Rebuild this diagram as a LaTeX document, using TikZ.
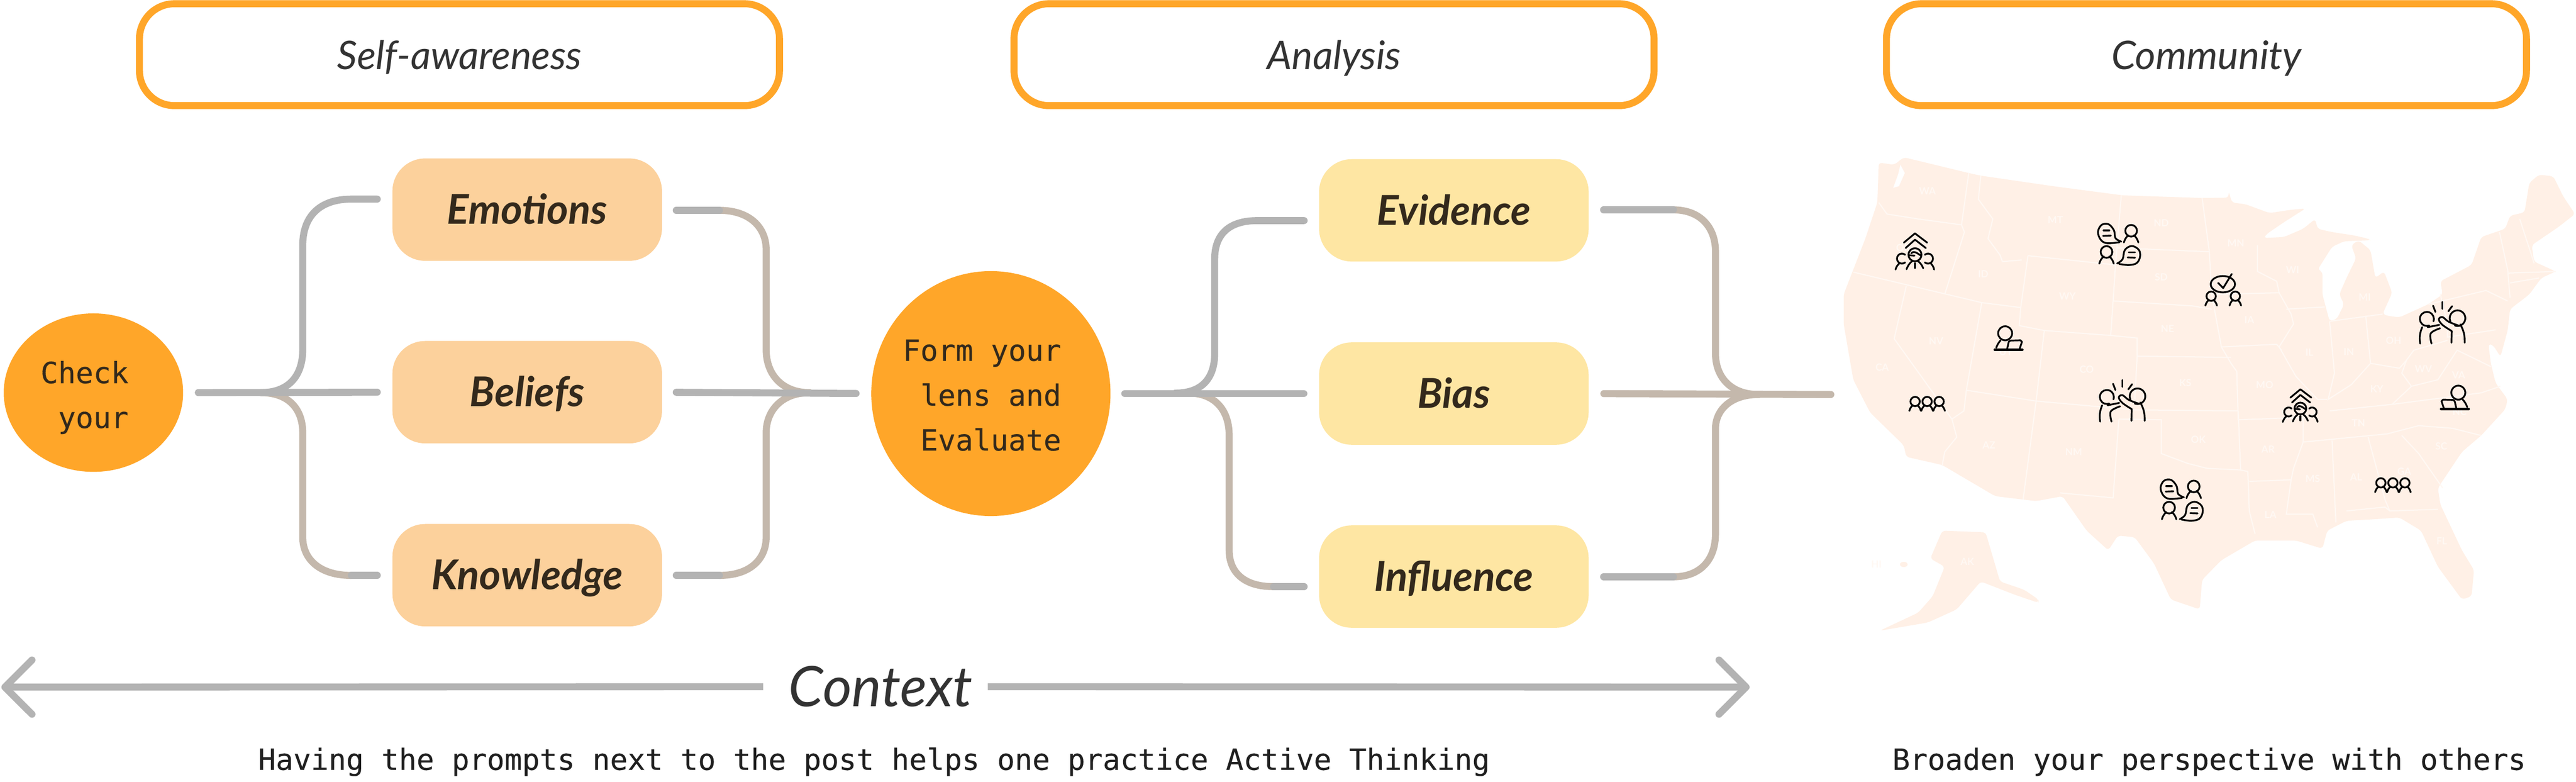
\documentclass[tikz,border=0pt]{standalone}
\usepackage{fontspec}
\setmonofont{DejaVu Sans Mono}[FakeBold = 0.25]
\newfontfamily\handfont{Lato}
\usetikzlibrary{arrows.meta}
\usetikzlibrary{shapes.geometric}
\definecolor{morange}{HTML}{FFA629}
\definecolor{mpeach}{HTML}{FCD19C}
\definecolor{myellow}{HTML}{FEE6A3}
\definecolor{mgrey}{HTML}{B3B3B3}
\definecolor{mtan}{HTML}{C4B8AC}
\definecolor{mmap}{HTML}{FFF0E6}
\definecolor{mline}{HTML}{FFF8F3}
\definecolor{mink}{HTML}{33291C}
\tikzset{
  headbox/.style = {draw = morange, line width = 0.15cm, rounded corners = 0.75cm, minimum width = 13.7cm, minimum height = 2.18cm, inner sep = 0, outer sep = 0, text height = 0.62cm, text depth = 0, text = black!80, font = \handfont\itshape\fontsize{24}{28}\selectfont},
  peachbox/.style = {fill = mpeach, rounded corners = 0.7cm, minimum width = 5.77cm, minimum height = 2.19cm, inner sep = 0, outer sep = 0, text height = 0.62cm, text depth = 0, text = mink, font = \handfont\bfseries\itshape\fontsize{25}{29}\selectfont},
  yellowbox/.style = {peachbox, fill = myellow},
  orangeblob/.style = {fill = morange, ellipse, inner sep = 0, outer sep = 0},
  blobtext/.style = {inner sep = 0, align = right, xshift = -0.19cm, text = mink, font = \ttfamily\fontsize{17.8}{27.3}\selectfont},
  greyline/.style = {draw = mgrey, line width = 0.15cm, line cap = round},
  tanline/.style = {draw = mtan, line width = 0.15cm, line cap = round},
  notetext/.style = {inner sep = 0, anchor = base west, text = black!88, font = \ttfamily\fontsize{17.8}{22}\selectfont},
  statelabel/.style = {inner sep = 0, text = mline, font = \handfont\bfseries\fontsize{6}{7}\selectfont},
  iconline/.style = {draw = black, line width = 0.038cm, line cap = round, line join = round},
  pics/person/.style = {code = {
    \draw [iconline] (0, 0) circle (0.125);
    \draw [iconline] (-0.06, -0.095) to [bend right = 15] (-0.155, -0.25);
    \draw [iconline] (0.06, -0.095) to [bend left = 15] (0.155, -0.25);
  }},
  pics/triple/.style = {code = {
    \pic [scale = 0.8] at (-0.257, 0) {person};
    \pic [scale = 0.8] at (0, 0) {person};
    \pic [scale = 0.8] at (0.257, 0) {person};
  }},
  pics/crowd/.style = {code = {
    \draw [iconline] (-0.237, 0.26) -- (0, 0.457) -- (0.26, 0.26);
    \draw [iconline] (-0.2, 0.143) -- (0, 0.323) -- (0.233, 0.143);
    \draw [iconline] (0, 0) circle (0.14);
    \draw [iconline] (-0.08, 0.03) .. controls (-0.02, 0.09) and (0.02, 0.05) .. (0.13, -0.02);
    \draw [iconline] (-0.13, -0.01) -- (-0.01, -0.02);
    \draw [iconline] (-0.057, -0.133) to [bend right = 15] (-0.18, -0.31);
    \draw [iconline] (0.06, -0.133) to [bend left = 15] (0.177, -0.29);
    \draw [iconline] (0, -0.183) -- (0, -0.283);
    \draw [iconline] (-0.21, -0.0) arc (50 : 310 : 0.107);
    \draw [iconline] (0.21, -0.0) arc (130 : -130 : 0.107);
    \draw [iconline] (-0.34, -0.19) to [bend right = 15] (-0.417, -0.317);
    \draw [iconline] (0.343, -0.19) to [bend left = 15] (0.41, -0.317);
  }},
  pics/chat/.style = {code = {
    \draw [iconline] plot [smooth, tension = 0.6] coordinates {(0.047, 0.06) (-0.077, 0.133) (-0.11, 0.3) (-0.227, 0.433) (-0.377, 0.417) (-0.453, 0.267) (-0.393, 0.1) (-0.26, 0.027) (0.007, 0.047)};
    \draw [iconline] (-0.333, 0.3) -- (-0.21, 0.3);
    \draw [iconline] (-0.343, 0.183) -- (-0.177, 0.19);
    \pic at (0.257, 0.293) {person};
    \pic at (-0.27, -0.16) {person};
    \draw [iconline] plot [smooth, tension = 0.6] coordinates {(-0.043, -0.407) (0.073, -0.317) (0.123, -0.117) (0.273, -0.033) (0.423, -0.117) (0.447, -0.267) (0.373, -0.4) (0.207, -0.44) (0, -0.417)};
    \draw [iconline] (0.207, -0.167) -- (0.34, -0.167);
    \draw [iconline] (0.183, -0.277) -- (0.34, -0.283);
  }},
  pics/tick/.style = {code = {
    \draw [iconline] (0, 0) ellipse (0.26 and 0.175);
    \draw [iconline] (-0.1, 0.027) -- (0.007, -0.083) -- (0.19, 0.217);
    \pic [scale = 0.8] at (-0.25, -0.257) {person};
    \pic [scale = 0.8] at (0.267, -0.257) {person};
  }},
  pics/laptop/.style = {code = {
    \draw [iconline] (0, 0) circle (0.15);
    \draw [iconline] (-0.097, -0.15) to [bend right = 10] (-0.19, -0.307);
    \draw [iconline, line width = 0.05cm] (-0.223, -0.35) -- (0.37, -0.35);
    \draw [iconline] (0.043, -0.333) -- (0.077, -0.183) -- (0.11, -0.157) -- (0.327, -0.15) -- (0.36, -0.183) -- (0.31, -0.333);
  }},
  pics/highfive/.style = {code = {
    \draw [iconline] (-0.192, 0.026) arc (-20 : 290 : 0.15);
    \draw [iconline] (0.172, 0.022) arc (205 : -110 : 0.167);
    \draw [iconline] (-0.433, -0.1) to [bend right = 15] (-0.477, -0.45);
    \draw [iconline] (-0.317, -0.1) -- (-0.067, -0.05);
    \draw [iconline] plot [smooth, tension = 0.6] coordinates {(-0.05, -0.123) (-0.25, -0.233) (-0.233, -0.45)};
    \draw [iconline] plot [smooth, tension = 0.6] coordinates {(0.2, -0.183) (0, -0.05) (-0.077, 0.067) (0, 0.117) (0.133, 0.017) (0.35, -0.067)};
    \draw [iconline] (0.383, -0.04) to [bend left = 15] (0.477, -0.433);
    \draw [iconline] (0.2, -0.183) -- (0.193, -0.433);
    \draw [iconline] (-0.2, 0.36) -- (-0.15, 0.227);
    \draw [iconline] (0, 0.44) -- (0, 0.293);
    \draw [iconline] (0.207, 0.35) -- (0.127, 0.24);
  }}
}

\begin{document}
\begin{tikzpicture}
  \useasboundingbox (0, 0) rectangle (55.14, 16.72);

  % map
  \begin{scope}[shift = {(39, 13.72)}, x = 0.010293cm, y = -0.007015cm]
    \fill [mmap, rounded corners = 2pt] (118,68) -- (150,75) -- (170,52) -- (305,100) -- (330,108) -- (480,140) -- (625,168) -- (790,176) -- (845,175) -- (845,155) -- (852,190) -- (880,195) -- (930,222) -- (975,212) -- (1005,208) -- (960,250) -- (925,285) -- (918,298) -- (960,295) -- (1000,270) -- (1025,240) -- (1030,270) -- (1060,280) -- (1105,290) -- (1135,300) -- (1140,305) -- (1085,308) -- (1060,325) -- (1045,360) -- (1030,395) -- (1040,400) -- (1040,470) -- (1055,552) -- (1070,545) -- (1085,500) -- (1075,470) -- (1090,420) -- (1110,360) -- (1100,320) -- (1115,305) -- (1140,335) -- (1150,420) -- (1168,400) -- (1185,465) -- (1165,530) -- (1175,535) -- (1200,540) -- (1260,500) -- (1290,470) -- (1285,430) -- (1350,380) -- (1370,295) -- (1420,270) -- (1430,230) -- (1460,220) -- (1470,130) -- (1490,105) -- (1520,110) -- (1540,170) -- (1565,225) -- (1530,265) -- (1475,320) -- (1480,370) -- (1525,400) -- (1495,420) -- (1470,470) -- (1430,515) -- (1425,580) -- (1410,660) -- (1395,625) -- (1385,620) -- (1390,680) -- (1400,740) -- (1425,790) -- (1420,820) -- (1370,900) -- (1330,950) -- (1280,1060) -- (1285,1110) -- (1330,1250) -- (1355,1310) -- (1350,1390) -- (1330,1400) -- (1280,1300) -- (1245,1190) -- (1200,1150) -- (1150,1155) -- (1090,1160) -- (1050,1190) -- (1040,1245) -- (985,1220) -- (900,1220) -- (830,1280) -- (790,1340) -- (785,1430) -- (725,1400) -- (690,1290) -- (650,1210) -- (615,1205) -- (595,1250) -- (550,1190) -- (500,1085) -- (445,1100) -- (360,1085) -- (250,990) -- (175,965) -- (170,930) -- (100,830) -- (65,730) -- (45,560) -- (45,470) -- (90,300) -- (115,190) -- cycle;
    \fill [mmap, rounded corners = 2pt] (250,1190) -- (340,1195) -- (370,1345) -- (420,1370) -- (450,1400) -- (450,1410) -- (400,1385) -- (330,1345) -- (280,1430) -- (220,1470) -- (120,1495) -- (200,1440) -- (230,1390) -- (255,1300) -- (225,1275) -- cycle;
    \fill [mmap] (170, 1293) circle (8);
    \foreach \p in {
      {(118,190) -- (135,225) -- (200,240) -- (290,258)},
      {(305,100) -- (290,258) -- (296,280) -- (255,470)},
      {(330,108) -- (325,180) -- (355,240) -- (345,300) -- (370,350) -- (375,370) -- (415,365)},
      {(428,352) -- (413,510) -- (410,565) -- (462,580) -- (600,595) -- (655,603) -- (655,658) -- (650,790)},
      {(622,168) -- (610,380) -- (605,490) -- (600,595)},
      {(428,352) -- (610,380)},
      {(612,328) -- (805,340)},
      {(605,490) -- (770,505) -- (810,515)},
      {(655,658) -- (850,662)},
      {(462,580) -- (445,795) -- (418,1095)},
      {(300,762) -- (445,795) -- (650,822) -- (865,825)},
      {(332,495) -- (300,762) -- (295,825) -- (270,850) -- (280,905) -- (255,950) -- (250,990)},
      {(65,402) -- (332,495) -- (413,510)},
      {(175,445) -- (150,605) -- (270,850)},
      {(617,850) -- (605,1090) -- (495,1075)},
      {(617,850) -- (705,852) -- (705,955) -- (760,985) -- (800,1000) -- (870,1005) -- (885,1010) -- (888,1130) -- (900,1200)},
      {(865,825) -- (870,1005)},
      {(888,1040) -- (975,1035) -- (965,1140) -- (1020,1140) -- (1030,1180)},
      {(865,852) -- (1000,845) -- (1000,880) -- (1000,920) -- (980,1000) -- (975,1035)},
      {(790,176) -- (805,340) -- (810,470) -- (830,630) -- (850,680) -- (862,705) -- (865,852)},
      {(830,630) -- (945,622) -- (955,640)},
      {(808,470) -- (950,465)},
      {(905,320) -- (905,400) -- (945,430) -- (950,465) -- (975,530) -- (980,560) -- (950,630) -- (985,720) -- (1030,790) -- (1050,790)},
      {(965,515) -- (1045,508)},
      {(1055,552) -- (1065,710) -- (1052,790) -- (1100,745) -- (1140,680) -- (1200,695) -- (1215,670) -- (1205,710) -- (1225,750) -- (1185,805)},
      {(1130,535) -- (1140,680)},
      {(1055,552) -- (1165,530)},
      {(1055,825) -- (1185,805) -- (1370,770) -- (1410,750)},
      {(1000,920) -- (1175,895) -- (1240,870) -- (1310,878) -- (1370,900)},
      {(1060,915) -- (1068,1165)},
      {(1135,905) -- (1170,1095) -- (1180,1130)},
      {(1090,1130) -- (1170,1118) -- (1180,1130) -- (1280,1125)},
      {(1205,900) -- (1240,955) -- (1290,1060)},
      {(1215,670) -- (1230,640) -- (1300,610)},
      {(1285,470) -- (1300,560) -- (1300,600) -- (1400,578)},
      {(1260,500) -- (1380,458) -- (1425,490)},
      {(1408,280) -- (1425,395) -- (1430,480)},
      {(1450,240) -- (1480,375)},
      {(1425,405) -- (1525,400)},
      {(1430,435) -- (1490,420)},
      {(1225,750) -- (1280,730) -- (1320,640) -- (1390,690)}} {
      \draw [mline, line width = 0.025cm] \p;
    }
    \fill [white] (163,75) -- (172,100) -- (160,140) -- (148,145) -- (158,105) -- cycle;
    \foreach \n/\x/\y in {WA/219/155, MT/485/243, ND/705/253, MN/860/313, OR/169/327, ID/335/408, SD/705/417, WY/510/475, WI/978/395, MI/1128/478, IA/888/548, NE/718/575, NV/237/612, UT/382/645, IL/1013/647, IN/1095/645, OH/1188/610, CA/125/693, CO/550/698, WV/1250/697, VA/1323/715, KS/755/740, MO/920/745, KY/1153/758, NC/1325/828, TN/1115/862, OK/782/912, AR/927/942, SC/1287/933, AZ/347/930, NM/523/950, MS/1020/1032, AL/1110/1027, GA/1210/1010, LA/932/1142, FL/1288/1222, AK/302/1285, HI/113/1292} {
      \node [statelabel] (st\n) at (\x, \y) {\n};
    }
  \end{scope}

  % headers
  \node [headbox] (selfbox) at (9.835, 15.55) {Self-awareness};
  \node [headbox] (analysisbox) at (28.555, 15.55) {Analysis};
  \node [headbox] (communitybox) at (47.23, 15.55) {Community};

  % nodes
  \node [orangeblob, minimum width = 3.84cm, minimum height = 3.39cm] (check) at (2.0, 8.32) {};
  \node [blobtext, yshift = -0.105cm] (checktext) at (check) {Check\\your};
  \node [orangeblob, minimum width = 5.12cm, minimum height = 5.24cm] (form) at (21.21, 8.30) {};
  \node [blobtext, yshift = -0.035cm] (formtext) at (form) {Form your\\lens and\\Evaluate};
  \node [peachbox] (emotions) at (11.285, 12.235) {Emotions};
  \node [peachbox] (beliefs) at (11.285, 8.33) {Beliefs};
  \node [peachbox] (knowledge) at (11.285, 4.415) {Knowledge};
  \node [yellowbox] (evidence) at (31.12, 12.22) {Evidence};
  \node [yellowbox] (bias) at (31.12, 8.30) {Bias};
  \node [yellowbox] (influence) at (31.12, 4.385) {Influence};

  \coordinate (jl1) at (5.58, 8.32);
  \coordinate (jr1) at (17.33, 8.32);
  \coordinate (jl2) at (25.16, 8.31);
  \coordinate (jl2b) at (25.44, 8.31);
  \coordinate (jr2) at (37.64, 8.28);
  \coordinate (emoin) at (8.075, 12.46);
  \coordinate (emoout) at (14.475, 12.22);
  \coordinate (knowin) at (8.075, 4.41);
  \coordinate (knowout) at (14.475, 4.41);
  \coordinate (evidin) at (27.915, 12.00);
  \coordinate (evidout) at (34.325, 12.23);
  \coordinate (inflin) at (27.915, 4.17);
  \coordinate (inflout) at (34.325, 4.38);
  \coordinate (mapin) at (39.19, 8.28);

  % first fork
  \draw [tanline] (jl1) .. controls (6.2, 8.32) and (6.48, 7.95) .. (6.48, 7.46) -- (6.48, 5.23) .. controls (6.48, 4.75) and (6.85, 4.41) .. (7.52, 4.41);
  \draw [greyline] (jl1) .. controls (6.2, 8.32) and (6.48, 8.7) .. (6.48, 9.24) -- (6.48, 11.47) .. controls (6.48, 12.1) and (6.85, 12.46) .. (7.52, 12.46) -- (emoin);
  \draw [greyline] (7.52, 4.41) -- (knowin);
  \draw [tanline] (15.40, 12.22) .. controls (16.05, 12.22) and (16.40, 11.85) .. (16.40, 11.38) -- (16.40, 9.24) .. controls (16.40, 8.7) and (16.75, 8.32) .. (jr1);
  \draw [tanline] (15.40, 4.41) .. controls (16.05, 4.41) and (16.40, 4.75) .. (16.40, 5.23) -- (16.40, 7.46) .. controls (16.40, 7.95) and (16.75, 8.32) .. (jr1);
  \draw [greyline] (emoout) -- (15.40, 12.22);
  \draw [greyline] (knowout) -- (15.40, 4.41);
  \draw [greyline, shorten <= 0.325cm, shorten >= 0.325cm] (check.east) -- (beliefs.west);
  \draw [greyline, shorten <= 0.305cm, shorten >= 0.325cm] (beliefs.east) -- (form.west);

  % second fork
  \draw [tanline] (jl2b) .. controls (26.0, 8.31) and (26.31, 7.95) .. (26.31, 7.41) -- (26.31, 4.95) .. controls (26.31, 4.5) and (26.6, 4.17) .. (27.26, 4.17);
  \draw [greyline] (jl2) .. controls (25.7, 8.31) and (26.0, 8.6) .. (26.0, 9.16) -- (26.0, 11.18) .. controls (26.0, 11.7) and (26.3, 12.0) .. (26.91, 12.0) -- (evidin);
  \draw [greyline] (27.26, 4.17) -- (inflin);
  \draw [tanline] (35.82, 12.23) .. controls (36.4, 12.23) and (36.72, 11.85) .. (36.72, 11.34) -- (36.72, 9.16) .. controls (36.72, 8.65) and (37.05, 8.28) .. (jr2);
  \draw [tanline] (35.82, 4.38) .. controls (36.4, 4.38) and (36.72, 4.75) .. (36.72, 5.30) -- (36.72, 7.55) .. controls (36.72, 7.95) and (37.05, 8.28) .. (jr2);
  \draw [greyline] (evidout) -- (35.82, 12.23);
  \draw [greyline] (inflout) -- (35.82, 4.38);
  \draw [greyline, shorten <= 0.305cm, shorten >= 0.325cm] (form.east) -- (bias.west);
  \draw [tanline, shorten <= 0.325cm] (bias.east) -- (mapin);

  % context arrow
  \node [minimum width = 3.9cm, inner sep = 0, text = black!80, font = \handfont\itshape\fontsize{34}{38}\selectfont] (context) at (18.85, 2.03) {Context};
  \coordinate (lefttip) at (0.03, 2.02);
  \coordinate (righttip) at (37.45, 2.02);
  \draw [greyline, line cap = butt, shorten <= 0.54cm, -{Straight Barb[length = 0.58cm, width = 1.16cm, round]}] (context.west) -- (lefttip);
  \draw [greyline, line cap = butt, shorten <= 0.32cm, -{Straight Barb[length = 0.58cm, width = 1.16cm, round]}] (context.east) -- (righttip);

  % captions
  \node [notetext] (note1) at (5.52, 0.25) {Having the prompts next to the post helps one practice Active Thinking};
  \node [notetext] (note2) at (40.50, 0.25) {Broaden your perspective with others};

  % icons
  \pic at (40.99, 11.27) {crowd};
  \pic [scale = 0.9] at (49.24, 7.98) {crowd};
  \pic at (45.36, 11.49) {chat};
  \pic at (46.70, 6.02) {chat};
  \pic at (47.58, 10.64) {tick};
  \pic at (42.92, 9.59) {laptop};
  \pic [xscale = -1] at (52.62, 8.32) {laptop};
  \pic at (41.25, 8.13) {triple};
  \pic at (51.22, 6.39) {triple};
  \pic at (52.28, 9.82) {highfive};
  \pic at (45.43, 8.15) {highfive};
\end{tikzpicture}
\end{document}
